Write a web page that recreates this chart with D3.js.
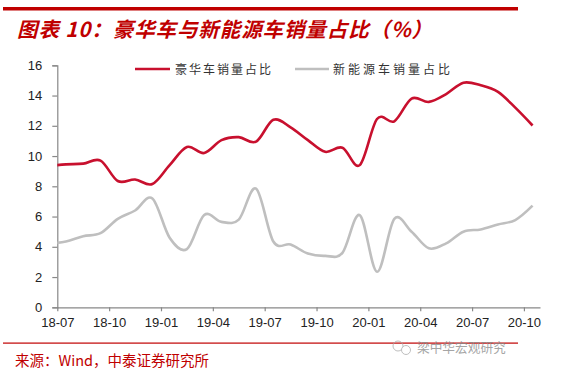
<!DOCTYPE html>
<html><head><meta charset="utf-8">
<script src="https://cdn.jsdelivr.net/npm/d3@7"></script>
<style>
html,body{margin:0;padding:0;background:#fff;}
svg{display:block;}
</style></head>
<body>
<svg id="c" width="577" height="372"></svg>
<script>
// Data: monthly points, dated mid-month, 18-06 .. 20-10 (18-06 lies left of the axis and is clipped)
const months = ["18-06","18-07","18-08","18-09","18-10","18-11","18-12","19-01","19-02","19-03","19-04","19-05","19-06","19-07","19-08","19-09","19-10","19-11","19-12","20-01","20-02","20-03","20-04","20-05","20-06","20-07","20-08","20-09","20-10"];
const luxuryShare = [9.35,9.45,9.5,9.7,8.35,8.45,8.15,9.4,10.6,10.2,11.05,11.25,10.95,12.4,11.9,11.05,10.28,10.55,9.4,12.45,12.3,13.8,13.58,14.1,14.85,14.68,14.24,13.2,12.02];
const nevShare = [4.2,4.35,4.7,4.9,5.85,6.4,7.2,4.6,3.85,6.1,5.65,5.8,7.85,4.35,4.15,3.55,3.4,3.6,6.1,2.35,5.85,5.0,3.9,4.23,5.0,5.15,5.48,5.77,6.72];
const tickLabels = ["18-07","18-10","19-01","19-04","19-07","19-10","20-01","20-04","20-07","20-10"];
const yTicks = [0,2,4,6,8,10,12,14,16];
const seriesNames = ["豪华车销量占比","新能源车销量占比"];

const svg = d3.select("#c");
const red = "#c8102e", gray = "#bfbfbf", dark = "#c00000";

// Title + rules
svg.append("rect").attr("x",3).attr("y",7).attr("width",515).attr("height",3.5).attr("fill",dark);
svg.append("text").attr("x",17).attr("y",36.5)
  .attr("font-family","'Noto Sans CJK SC', sans-serif").attr("font-size",20.5)
  .attr("letter-spacing",0.9)
  .attr("font-weight","bold").attr("font-style","italic").attr("fill",dark)
  .text("图表 10：豪华车与新能源车销量占比（%）");

// Scales
const x0 = 57.3, x1 = 540, yTop = 65.3, yBot = 307.3;
const monthIdx = m => { const p = m.split("-"); return (+p[0]-18)*12 + (+p[1]-7); };
const x = d3.scaleLinear().domain([0, 27.93]).range([x0, x1]);
const y = d3.scaleLinear().domain([0, 16]).range([yBot, yTop]);

// Axes
const axisCol = "#888888";
const yAxis = d3.axisLeft(y).tickValues(yTicks).tickSize(5).tickPadding(10).tickFormat(d3.format("d"));
const gy = svg.append("g").attr("transform",`translate(${x0},0)`).call(yAxis);
gy.select(".domain").attr("stroke",axisCol).attr("stroke-width",1.2);
gy.selectAll(".tick line").attr("stroke",axisCol).attr("stroke-width",1.2);
gy.selectAll(".tick text").attr("font-family","'Liberation Sans', Arial, sans-serif").attr("font-size",13).attr("fill","#222");

const xAxis = d3.axisBottom(x).tickValues(tickLabels.map(monthIdx)).tickSize(4).tickPadding(6)
  .tickFormat((d,i)=>tickLabels[i]).tickSizeOuter(0);
const gx = svg.append("g").attr("transform",`translate(0,${yBot})`).call(xAxis);
gx.select(".domain").attr("stroke",axisCol).attr("stroke-width",1.2);
gx.selectAll(".tick line").attr("stroke",axisCol).attr("stroke-width",1.2);
gx.selectAll(".tick text").attr("font-family","'Liberation Sans', Arial, sans-serif").attr("font-size",13).attr("fill","#222");

// Clip
svg.append("clipPath").attr("id","plot").append("rect").attr("x",x0).attr("y",0).attr("width",x1-x0).attr("height",yBot);

const line = d3.line().curve(d3.curveCatmullRom.alpha(0))
  .x((d,i)=>x(monthIdx(months[i])+0.5)).y(d=>y(d));

svg.append("path").attr("clip-path","url(#plot)").datum(nevShare).attr("d",line)
  .attr("fill","none").attr("stroke",gray).attr("stroke-width",2.6);
svg.append("path").attr("clip-path","url(#plot)").datum(luxuryShare).attr("d",line)
  .attr("fill","none").attr("stroke",red).attr("stroke-width",2.6);

// Legend
const legend = [{c:red,x1:135,x2:170,tx:175,ls:2},{c:gray,x1:295,x2:329,tx:333,ls:3}];
legend.forEach((l,i)=>{
  svg.append("line").attr("x1",l.x1).attr("x2",l.x2).attr("y1",69).attr("y2",69).attr("stroke",l.c).attr("stroke-width",2.6);
  svg.append("text").attr("x",l.tx).attr("y",73.5).attr("font-family","'Noto Sans CJK SC', sans-serif")
    .attr("font-size",12).attr("letter-spacing", l.ls).attr("fill","#333").text(seriesNames[i]);
});

// Footer
svg.append("rect").attr("x",3).attr("y",342.5).attr("width",515).attr("height",1.2).attr("fill",dark);
svg.append("text").attr("x",15).attr("y",366).attr("font-family","'Noto Sans CJK SC', sans-serif")
  .attr("font-size",14.5).attr("fill",dark).text("来源：Wind，中泰证券研究所");

// Watermark
const wm = svg.append("g").attr("opacity",0.75);
wm.append("circle").attr("cx",398).attr("cy",346).attr("r",5).attr("fill","none").attr("stroke","#aaa").attr("stroke-width",1);
wm.append("circle").attr("cx",406).attr("cy",350).attr("r",4.5).attr("fill","#fff").attr("stroke","#aaa").attr("stroke-width",1);
wm.append("text").attr("x",417).attr("y",352).attr("font-family","'Noto Sans CJK SC', sans-serif")
  .attr("font-size",12.7).attr("fill","#888").text("梁中华宏观研究");
</script>
</body></html>
